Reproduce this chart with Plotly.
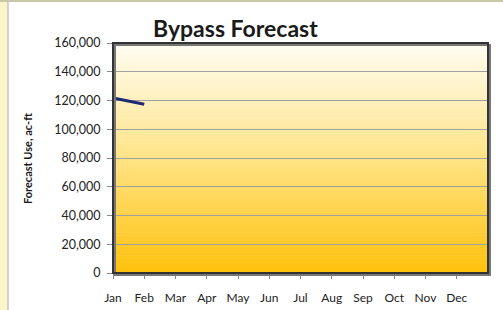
import numpy as np
import plotly.graph_objects as go

months = ["Jan", "Feb", "Mar", "Apr", "May", "Jun", "Jul", "Aug", "Sep", "Oct", "Nov", "Dec"]
forecast = [121700, 117400]
y_ticks = [0, 20000, 40000, 60000, 80000, 100000, 120000, 140000, 160000]

W, H = 503, 310
ml, mr, mt, mb = 113, 15, 43, 37

fig = go.Figure()

fig.add_trace(go.Scatter(
    x=list(range(len(forecast))), y=forecast, mode="lines",
    line=dict(color="#1D2A72", width=3), showlegend=False,
))

pw = W - ml - mr
ph = H - mt - mb
def px(xp):
    return (xp - ml) / pw
def py(yp):
    return (H - mb - yp) / ph

def lerp(c1, c2, t):
    return tuple(int(round(a + (b - a) * t)) for a, b in zip(c1, c2))

bottom = (0xFF, 0xC1, 0x0A)
mid = (0xFF, 0xE3, 0x85)
top = (0xFF, 0xFD, 0xF3)

shapes = []
n = 80
for i in range(n):
    t = (i + 0.5) / n
    c = lerp(bottom, mid, t * 2) if t < 0.5 else lerp(mid, top, (t - 0.5) * 2)
    shapes.append(dict(type="rect", xref="x domain", yref="y domain", x0=0, x1=1,
                       y0=i / n, y1=(i + 1) / n + 0.002,
                       fillcolor="rgb(%d,%d,%d)" % c, line=dict(width=0), layer="below"))

shapes += [
    dict(type="rect", xref="paper", yref="paper", x0=px(0), x1=px(7.5), y0=py(H), y1=py(0),
         fillcolor="#FBF5C9", line=dict(width=0), layer="below"),
    dict(type="line", xref="paper", yref="paper", x0=px(8), x1=px(8), y0=py(H), y1=py(2),
         line=dict(color="#A8A8A8", width=1)),
    dict(type="line", xref="paper", yref="paper", x0=px(0), x1=px(W), y0=py(1), y1=py(1),
         line=dict(color="#C8C8A8", width=2)),
    dict(type="rect", xref="paper", yref="paper", x0=px(ml + 2), x1=px(W - mr + 2), y0=py(H - mb + 2), y1=py(mt + 2),
         line=dict(color="#777777", width=2), layer="above"),
    dict(type="rect", xref="paper", yref="paper", x0=0, x1=1, y0=0, y1=1,
         line=dict(color="#333333", width=2), layer="above"),
]

fig.update_layout(
    width=W, height=H,
    margin=dict(l=ml, r=mr, t=mt, b=mb, autoexpand=False),
    paper_bgcolor="white", plot_bgcolor="white",
    font=dict(family="Lato, Open Sans, sans-serif", size=12.5, color="#222222"),
    shapes=shapes,
    annotations=[
        dict(text="<b>Bypass Forecast</b>", xref="paper", yref="paper", x=px(235), y=py(28),
             xanchor="center", yanchor="middle", showarrow=False,
             font=dict(family="Lato, Open Sans, sans-serif", size=23, color="#1a1a1a")),
        dict(text="<b>Forecast Use, ac-ft</b>", xref="paper", yref="paper", x=px(27), y=py(159),
             xanchor="center", yanchor="middle", showarrow=False, textangle=-90,
             font=dict(family="Lato, Open Sans, sans-serif", size=11, color="#1a1a1a")),
    ],
    xaxis=dict(range=[0, 12], tickmode="array", tickvals=list(range(12)), ticktext=months,
               showgrid=False, zeroline=False, ticks="outside", ticklen=5, tickcolor="#888888",
               showline=False, tickfont=dict(size=12), automargin=False, ticklabelstandoff=9),
    yaxis=dict(range=[0, 160000], tickmode="array", tickvals=y_ticks,
               ticktext=[f"{v:,}" for v in y_ticks],
               showgrid=True, gridcolor="#A0A0A0", gridwidth=1, zeroline=False,
               ticks="outside", ticklen=5, tickcolor="#888888",
               tickfont=dict(size=12.5), automargin=False, ticklabelstandoff=4),
)

fig.write_html("out.html", config={"displayModeBar": False},
               post_script="document.body.style.margin='0';document.body.style.overflow='hidden';")
